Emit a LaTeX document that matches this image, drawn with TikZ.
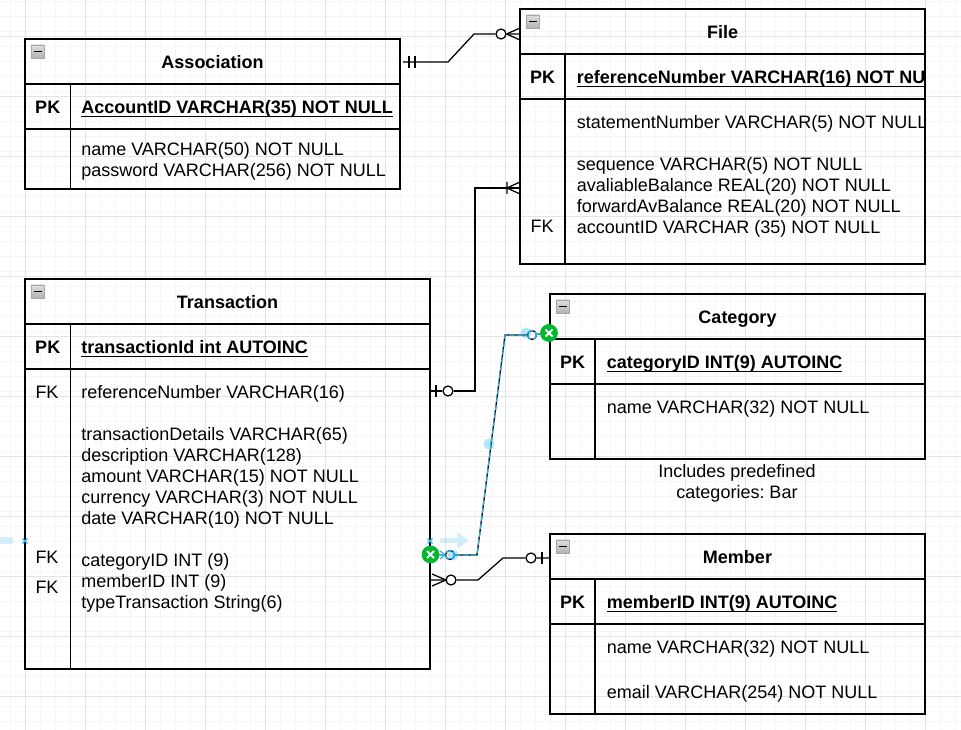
\documentclass[tikz,border=0pt]{standalone}
\usepackage{fontspec}
\setmainfont{Liberation Sans}
\usetikzlibrary{calc,positioning}
\definecolor{gridmajor}{HTML}{E4E4E4}
\definecolor{gridminor}{HTML}{F6F6F6}
\definecolor{selblue}{HTML}{29B6F2}
\definecolor{termgreen}{HTML}{00B92E}
\newcommand{\pkline}[1]{\setbox0\hbox{#1}\rlap{\rule[-2.4pt]{\wd0}{1.1pt}}\box0}
\begin{document}
\frenchspacing
\begin{tikzpicture}[x=.75pt,y=-.75pt,font=\fontsize{13.5}{16}\selectfont,
  cell/.style 2 args={draw=black,line width=.95pt,minimum width=#1*.75pt,minimum height=#2*.75pt,
    anchor=north west,inner sep=0pt,outer sep=0pt,text height=11.2pt,text depth=0pt},
  title/.style={font=\fontsize{13.5}{16}\selectfont\bfseries},
  rowtxt/.style={anchor=base west,inner sep=0pt},
  keytxt/.style={anchor=base,inner sep=0pt},
  minbox/.style={draw=gray!70,top color=gray!25,bottom color=gray!60,minimum size=13*.75pt,inner sep=0pt,outer sep=0pt},
  rel/.style={draw=black,line width=.95pt},
  erc/.style={circle,draw=black,fill=white,line width=.95pt,minimum size=10*.75pt,inner sep=0pt},
  term/.style={circle,fill=termgreen,minimum size=17.5*.75pt,inner sep=0pt},
  handle/.style={circle,fill=selblue,fill opacity=.35,minimum size=11*.75pt,inner sep=0pt},
  sel/.style={draw=selblue,line width=.85pt,dash pattern=on 4pt off 2pt}]
\useasboundingbox (0,0) rectangle (961,730);
% background grid
\foreach \X in {10,25,...,955}{\draw[gridminor,line width=.75pt] (\X,0)--(\X,730);}
\foreach \Y in {2,17,...,730}{\draw[gridminor,line width=.75pt] (0,\Y)--(961,\Y);}
\foreach \X in {25,85,...,955}{\draw[gridmajor,line width=.75pt] (\X,0)--(\X,730);}
\foreach \Y in {37,97,...,730}{\draw[gridmajor,line width=.75pt] (0,\Y)--(961,\Y);}
% Association
\node[cell={375}{45},title] (assocHead) at (25,39) {Association};
\node[cell={45.5}{45},title] (assocKey) at (25,84) {PK};
\node[cell={329.5}{45}] (assocPk) at (70.5,84) {};
\node[cell={45.5}{60}] (assocSide) at (25,129) {};
\node[cell={329.5}{60}] (assocBody) at (70.5,129) {};
\node[rowtxt,title] (assocId) at (81,114) {\pkline{AccountID VARCHAR(35) NOT NULL}};
\foreach \Y/\txt [count=\i] in {156/name VARCHAR(50) NOT NULL,177/password VARCHAR(256) NOT NULL}{
  \node[rowtxt] (assocRow\i) at (81,\Y) {\txt};}
% File
\node[cell={405}{45},title] (fileHead) at (520,9) {File};
\node[cell={45}{45},title] (fileKey) at (520,54) {PK};
\node[cell={360}{45}] (filePk) at (565,54) {};
\node[cell={45}{165}] (fileSide) at (520,99) {};
\node[cell={360}{165}] (fileBody) at (565,99) {};
\begin{scope}
 \clip (520,9) rectangle (925,264);
 \node[rowtxt,title] (fileId) at (576.5,84) {\pkline{referenceNumber VARCHAR(16) NOT NULL}};
 \foreach \Y/\txt [count=\i] in {129/statementNumber VARCHAR(5) NOT NULL,171/sequence VARCHAR(5) NOT NULL,
   192/avaliableBalance REAL(20) NOT NULL,213/forwardAvBalance REAL(20) NOT NULL,234/accountID VARCHAR (35) NOT NULL}{
  \node[rowtxt] (fileRow\i) at (576.5,\Y) {\txt};}
\end{scope}
\node[keytxt] (fileFk) at (542,233) {FK};
% Transaction
\node[cell={405}{45},title] (tranHead) at (25,279) {Transaction};
\node[cell={45.5}{45},title] (tranKey) at (25,324) {PK};
\node[cell={359.5}{45}] (tranPk) at (70.5,324) {};
\node[cell={45.5}{300}] (tranSide) at (25,369) {};
\node[cell={359.5}{300}] (tranBody) at (70.5,369) {};
\node[rowtxt,title] (tranId) at (81,354) {\pkline{transactionId int AUTOINC}};
\foreach \Y/\txt [count=\i] in {399/referenceNumber VARCHAR(16),441/transactionDetails VARCHAR(65),
  462/description VARCHAR(128),483/amount VARCHAR(15) NOT NULL,504/currency VARCHAR(3) NOT NULL,
  525/date VARCHAR(10) NOT NULL,567/categoryID INT (9),588/memberID INT (9),609/typeTransaction String(6)}{
  \node[rowtxt] (tranRow\i) at (81,\Y) {\txt};}
\foreach \Y [count=\i] in {399,564,594}{\node[keytxt] (tranFk\i) at (47,\Y) {FK};}
% Category
\node[cell={375}{45},title] (catHead) at (550,294) {Category};
\node[cell={45}{45},title] (catKey) at (550,339) {PK};
\node[cell={330}{45}] (catPk) at (595,339) {};
\node[cell={45}{75}] (catSide) at (550,384) {};
\node[cell={330}{75}] (catBody) at (595,384) {};
\node[rowtxt,title] (catId) at (606.5,369) {\pkline{categoryID INT(9) AUTOINC}};
\node[rowtxt] (catRow) at (606.5,414) {name VARCHAR(32) NOT NULL};
\node[align=center,inner sep=0pt,anchor=north] (catNote) at (737,464) {Includes predefined\\[-.4pt]categories: Bar};
% Member
\node[cell={375}{45},title] (memHead) at (550,534) {Member};
\node[cell={45}{45},title] (memKey) at (550,579) {PK};
\node[cell={330}{45}] (memPk) at (595,579) {};
\node[cell={45}{90}] (memSide) at (550,624) {};
\node[cell={330}{90}] (memBody) at (595,624) {};
\node[rowtxt,title] (memId) at (606.5,609) {\pkline{memberID INT(9) AUTOINC}};
\node[rowtxt] (memRow1) at (606.5,654) {name VARCHAR(32) NOT NULL};
\node[rowtxt] (memRow2) at (606.5,699) {email VARCHAR(254) NOT NULL};
% collapse icons
\foreach \n/\X/\Y in {assoc/37.5/51.5,file/532.5/21.5,tran/37.5/291.5,cat/562.5/306.5,mem/562.5/546.5}{
  \node[minbox] (\n Min) at (\X,\Y) {};
  \draw[line width=1pt] ($(\n Min.center)+(-4,0)$)--($(\n Min.center)+(4,0)$);}
% Association to File
\coordinate (assocOut) at (403,62);
\coordinate (assocBend) at (448,62);
\coordinate (fileBend) at (474,34);
\coordinate (fileIn) at (520,34);
\node[erc] (fileCirc) at (501,34) {};
\draw[rel] (assocOut)--(assocBend)--(fileBend)--(fileCirc)--(fileIn);
\draw[rel] (fileCirc.east)--(520,28) (fileCirc.east)--(520,40);
\draw[rel] (409,56)--(409,68) (415,56)--(415,68);
% Transaction to File
\coordinate (tranOut) at (430,391);
\coordinate (tranUp) at (475,391);
\coordinate (tranTop) at (475,188);
\coordinate (fileFkIn) at (520,188);
\node[erc] (tranCirc) at (448,391) {};
\draw[rel] (tranOut)--(tranCirc)--(tranUp)--(tranTop)--(fileFkIn);
\draw[rel] (436,385)--(436,397);
\draw[rel] (507,182)--(507,194) (507,188)--(520,182) (507,188)--(520,194);
% Transaction to Member
\coordinate (memOut) at (430,580);
\coordinate (memA) at (478,580);
\coordinate (memB) at (503,558);
\coordinate (memIn) at (550,558);
\node[erc] (memCirc) at (451,580) {};
\node[erc] (memEnd) at (531,558) {};
\draw[rel] (memOut)--(memCirc)--(memA)--(memB)--(memEnd)--(memIn);
\draw[rel] (432,574)--(446,580)--(432,586);
\draw[rel] (542,552)--(542,564);
% Transaction to Category, selected
\fill[selblue,opacity=.2] (440,538)--(457,538)--(457,532)--(469,540.5)--(457,549)--(457,543)--(440,543)--cycle;
\fill[selblue,opacity=.2] (0,537)rectangle(13,544);
\node[term] (catTerm) at (549,333) {};
\node[term] (tranTerm) at (430.5,554.5) {};
\coordinate (selA) at (477,555);
\coordinate (selB) at (505,335);
\node[erc,minimum size=9*.75pt] (selCircT) at (450,555) {};
\node[erc,minimum size=9*.75pt] (selCircC) at (532,335) {};
\draw[rel] (tranTerm)--(selCircT)--(selA)--(selB)--(selCircC)--(catTerm);
\draw[sel] (tranTerm)--(selCircT)--(selA)--(selB)--(selCircC)--(catTerm);
\draw[sel] (selCircT) circle (4.5);
\draw[sel] (selCircC) circle (4.5);
\draw[selblue,line width=.85pt] (440,551)--(445,555)--(440,559);
\node[handle] (selDotT) at (453,555) {};
\node[handle] (selDotM) at (489,444) {};
\node[handle] (selDotC) at (526,333) {};
\node[term] at (catTerm) {};
\node[term] at (tranTerm) {};
\foreach \n in {catTerm,tranTerm}{
  \draw[white,line width=1.5pt] ($(\n)+(-3.5,-3.5)$)--($(\n)+(3.5,3.5)$);
  \draw[white,line width=1.5pt] ($(\n)+(-3.5,3.5)$)--($(\n)+(3.5,-3.5)$);}
\foreach \X in {25,430}{
  \draw[selblue,line width=.85pt] (\X-2.5,538.5)--(\X+2.5,543.5) (\X-2.5,543.5)--(\X+2.5,538.5);}
\end{tikzpicture}
\end{document}
